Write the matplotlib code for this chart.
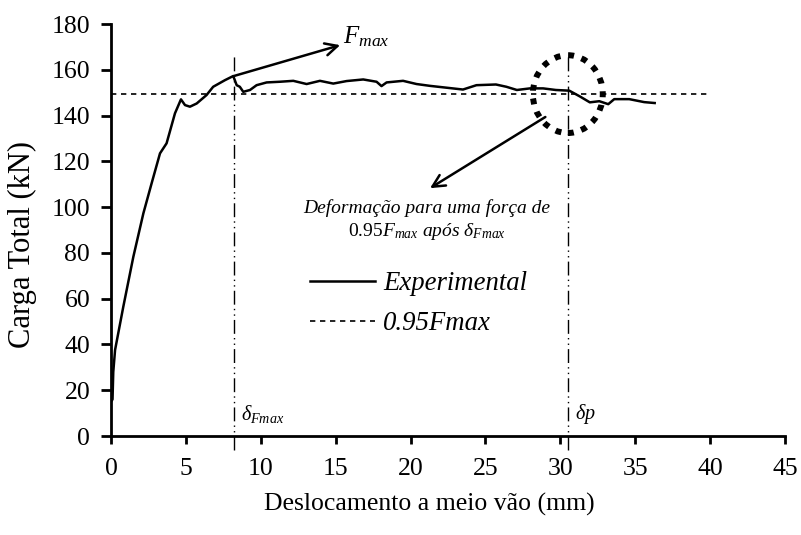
import matplotlib
matplotlib.use("Agg")
import matplotlib.pyplot as plt
from matplotlib.patches import Ellipse
import numpy as np

plt.rcParams['font.family'] = ['Liberation Serif', 'DejaVu Serif']
plt.rcParams['mathtext.fontset'] = 'custom'
plt.rcParams['mathtext.rm'] = 'Liberation Serif'
plt.rcParams['mathtext.it'] = 'Liberation Serif:italic'

# experimental curve (mm, kN)
desloc = [0.0, 0.1, 0.15, 0.27, 0.82, 1.49, 2.16, 2.71, 3.27, 3.71, 4.27, 4.67,
          4.94, 5.27, 5.72, 6.38, 6.82, 7.61, 8.16, 8.39, 8.6, 8.83, 9.28, 9.72,
          10.39, 11.28, 12.17, 13.06, 13.95, 14.84, 15.73, 16.84, 17.73, 18.06,
          18.4, 19.5, 20.4, 21.3, 22.4, 23.5, 24.4, 25.7, 26.4, 27.1, 27.97,
          28.85, 29.7, 30.6, 31.3, 31.97, 32.6, 33.2, 33.6, 34.6, 35.6, 36.3]
carga = [15.0, 16.0, 28.0, 37.6, 56.5, 78.3, 97.3, 110.4, 123.5, 127.9, 141.0, 147.1,
         144.6, 143.9, 145.3, 149.0, 152.6, 155.5, 157.3, 153.3, 152.6, 150.4, 151.2, 153.3,
         154.5, 154.8, 155.2, 153.8, 155.2, 154.0, 155.1, 155.8, 154.8, 152.9,
         154.5, 155.2, 153.8, 153.0, 152.2, 151.4, 153.3, 153.6, 152.6, 151.2, 151.9,
         151.9, 151.2, 150.9, 148.4, 145.8, 146.3, 145.0, 147.2, 147.2, 145.9, 145.5]

f_max = 157.3
x_fmax = 8.2
x_dp = 30.5
f95 = 0.95 * f_max
x_ticks = np.arange(0, 50, 5)
y_ticks = np.arange(0, 200, 20)

fig = plt.figure(figsize=(8.01, 5.35), dpi=100)
ax = fig.add_axes([0.1386, 0.185, 0.8414, 0.770])

exp_line, = ax.plot(desloc, carga, color='black', lw=1.8, label='Experimental')
f95_line, = ax.plot([0, 40], [f95, f95], color='black', lw=1.2,
                    linestyle=(0, (3.2, 2.8)), label='0.95Fmax')

# vertical reference lines
dash_dot = (0, (10, 3, 1, 3, 1, 3))
ax.plot([x_fmax, x_fmax], [-6, 167.5], color='black', lw=1.0, linestyle=dash_dot,
        clip_on=False)
ax.plot([x_dp, x_dp], [-6, 167], color='black', lw=1.0, linestyle=dash_dot,
        clip_on=False)

# dotted circle around the delta_p point
circ = Ellipse((x_dp, 149.4), width=4.67, height=34.0, fill=False,
               edgecolor='black', lw=4.3, linestyle=(0, (1, 1.3)))
ax.add_patch(circ)

arrow = dict(arrowstyle='->', lw=1.8, color='black', mutation_scale=22,
             shrinkA=0, shrinkB=0)
ax.annotate('', xy=(15.3, 170.8), xytext=(x_fmax, f_max), arrowprops=arrow)
ax.text(15.5, 174.7, r'$F_{max}$', fontsize=18, ha='left', va='center')

ax.annotate('', xy=(21.3, 108.3), xytext=(29.0, 139.4), arrowprops=arrow)
ax.text(21.1, 99.5, 'Deformação para uma força de', fontsize=14,
        style='italic', ha='center', va='center')
ax.text(21.1, 89.3, r'$0.95F_{max}$ $após$ $\delta_{Fmax}$', fontsize=14,
        ha='center', va='center')

ax.text(x_fmax + 0.5, 9.5, r'$\delta_{Fmax}$', fontsize=14.5, ha='left', va='center')
ax.text(x_dp + 0.5, 9.5, r'$\delta p$', fontsize=14.5, ha='left', va='center')

ax.legend(handles=[exp_line, f95_line], loc='upper left',
          bbox_to_anchor=(0.295, 0.40), frameon=False,
          prop={'style': 'italic', 'size': 19.3}, handlelength=2.43,
          handletextpad=0.3, labelspacing=0.55, borderpad=0, borderaxespad=0)

ax.set_xlim(0, 45)
ax.set_ylim(0, 180)
ax.set_xticks(x_ticks)
ax.set_yticks(y_ticks)
ax.tick_params(axis='both', direction='out', width=2, labelsize=18.5)
ax.tick_params(axis='x', length=6, pad=10)
ax.tick_params(axis='y', length=7, pad=8)
for side in ['top', 'right']:
    ax.spines[side].set_visible(False)
for side in ['left', 'bottom']:
    ax.spines[side].set_linewidth(2)

ax.set_xlabel('Deslocamento a meio vão (mm)', fontsize=18.5)
ax.set_ylabel('Carga Total (kN)', fontsize=22)
ax.xaxis.set_label_coords(0.473, -0.138)
ax.yaxis.set_label_coords(-0.11, 0.464)

fig.savefig('out.png', dpi=100)
